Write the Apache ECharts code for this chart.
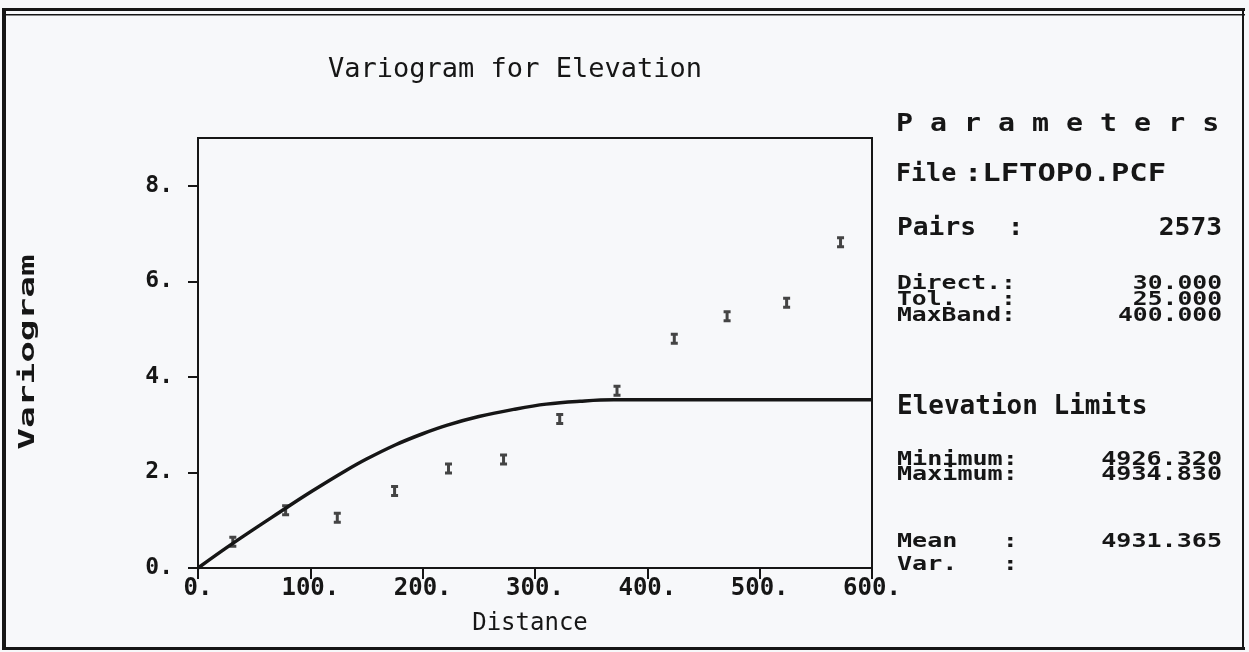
<!DOCTYPE html>
<html>
<head>
<meta charset="utf-8">
<title>Variogram for Elevation</title>
<script src="https://cdn.jsdelivr.net/npm/echarts@6/dist/echarts.min.js"></script>
<style>
  html, body { margin: 0; padding: 0; background: #f7f8fa; }
  #main { width: 1249px; height: 652px; }
</style>
</head>
<body>
<div id="main"></div>
<script>
// experimental variogram (lag distance / semivariance)
var lagDist = [31, 78, 124, 175, 223, 272, 322, 373, 424, 471, 524, 572];
var gamma = [0.55, 1.21, 1.05, 1.61, 2.08, 2.27, 3.12, 3.71, 4.80, 5.27, 5.55, 6.82];

// fitted model curve
var modelDist = [0, 30, 78, 101, 131, 150, 176, 200, 222, 250, 281, 310, 340, 370, 400, 600];
var modelGamma = [0, 0.50, 1.25, 1.60, 2.03, 2.28, 2.58, 2.81, 2.99, 3.17, 3.32, 3.43, 3.49, 3.52, 3.52, 3.52];

var xTicks = [0, 100, 200, 300, 400, 500, 600];
var yTicks = [0, 2, 4, 6, 8];

// parameter panel
var paramRows = [
  ['Pairs  :', '2573'],
  ['Direct.:', '30.000'],
  ['Tol.   :', '25.000'],
  ['MaxBand:', '400.000'],
  ['Minimum:', '4926.320'],
  ['Maximum:', '4934.830'],
  ['Mean   :', '4931.365'],
  ['Var.   :', '']
];

var FONT = '"DejaVu Sans Mono", "Liberation Mono", monospace';
var INK = '#161616';

function txt(x, y, text, size, sx, align, weight) {
  return {
    type: 'text', x: x, y: y, scaleX: sx || 1, silent: true,
    style: {
      text: text, fontFamily: FONT, fontSize: size,
      fontWeight: weight || 'bold', fill: INK,
      align: align || 'left', verticalAlign: 'middle'
    }
  };
}

var myChart = echarts.init(document.getElementById('main'));

// y position of each panel row (Pairs .. Var.)
var rowY = [228, 284, 300, 316, 460, 475, 542, 565];
var rowSize = [25, 19, 19, 19, 19, 19, 19, 19];
var rowScale = [1.05, 1.3, 1.3, 1.3, 1.32, 1.32, 1.32, 1.32];

var graphics = [
  // page frame
  { type: 'rect', silent: true, shape: { x: 2, y: 8, width: 4, height: 642 }, style: { fill: INK } },
  { type: 'rect', silent: true, shape: { x: 2, y: 8, width: 1243, height: 3 }, style: { fill: INK } },
  { type: 'rect', silent: true, shape: { x: 2, y: 14, width: 1243, height: 1.5 }, style: { fill: INK } },
  { type: 'rect', silent: true, shape: { x: 1242, y: 8, width: 2, height: 642 }, style: { fill: INK } },
  { type: 'rect', silent: true, shape: { x: 2, y: 647, width: 1243, height: 3 }, style: { fill: INK } },
  // titles
  txt(515, 70, 'Variogram for Elevation', 27, 1, 'center', 'normal'),
  { type: 'text', x: 28, y: 352, rotation: Math.PI / 2, scaleX: 1.64, silent: true,
    style: { text: 'Variogram', fontFamily: FONT, fontSize: 22, fontWeight: 'bold',
             fill: INK, align: 'center', verticalAlign: 'middle' } },
  txt(896, 124, 'P a r a m e t e r s', 25, 1.13),
  txt(896, 174, 'File', 25, 1.0),
  txt(964, 174, ':LFTOPO.PCF', 25, 1.22),
  txt(897, 407, 'Elevation Limits', 26, 1)
];
for (var i = 0; i < paramRows.length; i++) {
  graphics.push(txt(897, rowY[i], paramRows[i][0], rowSize[i], rowScale[i]));
  if (paramRows[i][1]) {
    graphics.push(txt(1222, rowY[i], paramRows[i][1], rowSize[i], rowScale[i], 'right'));
  }
}

var option = {
  backgroundColor: '#f7f8fa',
  animation: false,
  grid: {
    left: 198, right: 377, top: 138, bottom: 84,
    show: true, borderColor: INK, borderWidth: 2, backgroundColor: 'transparent'
  },
  xAxis: {
    type: 'value', min: 0, max: 600, interval: 100,
    name: 'Distance', nameLocation: 'middle', nameGap: 44,
    nameTextStyle: { fontFamily: FONT, fontSize: 24, color: INK, padding: [0, 10, 0, 0] },
    axisLine: { lineStyle: { color: INK, width: 2 } },
    axisTick: { show: true, length: 11, lineStyle: { color: INK, width: 2 } },
    axisLabel: {
      margin: 9, fontFamily: FONT, fontSize: 24, fontWeight: 'bold', color: INK,
      formatter: function (v) { return v + '.'; }
    },
    splitLine: { show: false }
  },
  yAxis: {
    type: 'value', min: 0, max: 9, interval: 2,
    axisLine: { show: true, lineStyle: { color: INK, width: 2 } },
    axisTick: { show: true, length: 10, customValues: yTicks, lineStyle: { color: INK, width: 2 } },
    axisLabel: {
      margin: 25, fontFamily: FONT, fontSize: 23, fontWeight: 'bold', color: INK,
      customValues: yTicks,
      formatter: function (v) { return v + '.'; }
    },
    splitLine: { show: false }
  },
  graphic: graphics,
  series: [
    {
      name: 'model', type: 'line', smooth: 0.4, symbol: 'none',
      lineStyle: { color: INK, width: 3.5 },
      data: modelDist.map(function (d, i) { return [d, modelGamma[i]]; }),
      z: 2
    },
    {
      name: 'variogram', type: 'scatter',
      symbol: 'path://M0,0H7V3H5V9H7V12H0V9H2V3H0Z', symbolSize: [7, 12],
      itemStyle: { color: INK },
      data: lagDist.map(function (d, i) { return [d, gamma[i]]; }),
      z: 3
    }
  ]
};

myChart.setOption(option);
</script>
</body>
</html>
